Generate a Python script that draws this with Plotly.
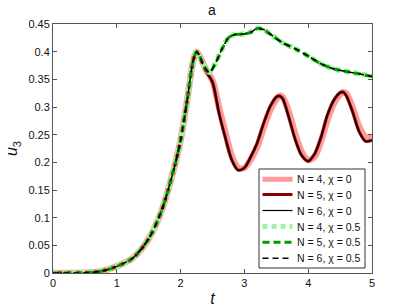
import plotly.graph_objects as go

# chi = 0 series
t_c0 = [0, 0.5, 0.75, 1.0, 1.25, 1.5, 1.7, 1.9, 2.0, 2.1, 2.2, 2.25, 2.3, 2.4, 2.5, 2.6, 2.7, 2.8, 2.9,
        3.0, 3.1, 3.2, 3.3, 3.4, 3.5, 3.55, 3.6, 3.7, 3.8, 3.9, 4.0, 4.1, 4.2, 4.3, 4.4, 4.5, 4.55,
        4.6, 4.7, 4.8, 4.9, 5.0]
u_n4_c0 = [0, 0.0005, 0.003, 0.012, 0.027, 0.062, 0.112, 0.19, 0.24, 0.31, 0.385, 0.40, 0.392, 0.367,
           0.348, 0.3, 0.255, 0.212, 0.19, 0.19, 0.205, 0.228, 0.262, 0.293, 0.314, 0.32, 0.318, 0.29,
           0.25, 0.218, 0.204, 0.21, 0.238, 0.276, 0.306, 0.323, 0.327, 0.324, 0.298, 0.264, 0.246, 0.245]
u_n5_c0 = [0, 0.0005, 0.003, 0.012, 0.027, 0.062, 0.112, 0.19, 0.24, 0.31, 0.385, 0.40, 0.39, 0.365,
           0.345, 0.29, 0.245, 0.205, 0.186, 0.19, 0.21, 0.235, 0.27, 0.30, 0.318, 0.32, 0.315, 0.28,
           0.24, 0.212, 0.202, 0.215, 0.245, 0.285, 0.312, 0.326, 0.327, 0.32, 0.29, 0.255, 0.238, 0.24]
u_n6_c0 = [0, 0.0005, 0.003, 0.012, 0.027, 0.062, 0.112, 0.19, 0.24, 0.31, 0.385, 0.40, 0.39, 0.365,
           0.345, 0.29, 0.245, 0.205, 0.186, 0.19, 0.21, 0.235, 0.27, 0.30, 0.318, 0.32, 0.315, 0.28,
           0.24, 0.212, 0.202, 0.215, 0.245, 0.285, 0.312, 0.326, 0.327, 0.32, 0.29, 0.255, 0.238, 0.24]

# chi = 0.5 series
t_c5 = [0, 0.5, 0.75, 1.0, 1.25, 1.5, 1.7, 1.9, 2.0, 2.1, 2.2, 2.25, 2.3, 2.35, 2.45, 2.55, 2.65, 2.75,
        2.85, 3.0, 3.1, 3.2, 3.3, 3.4, 3.6, 3.8, 4.0, 4.2, 4.4, 4.6, 4.8, 5.0]
u_n4_c5 = [0, 0.0005, 0.003, 0.012, 0.027, 0.062, 0.112, 0.19, 0.24, 0.31, 0.385, 0.40, 0.392, 0.378,
           0.363, 0.38, 0.405, 0.425, 0.431, 0.432, 0.436, 0.442, 0.44, 0.432, 0.416, 0.405, 0.392,
           0.378, 0.369, 0.364, 0.36, 0.356]
u_n5_c5 = [0, 0.0005, 0.003, 0.012, 0.027, 0.062, 0.112, 0.19, 0.24, 0.31, 0.385, 0.40, 0.392, 0.377,
           0.362, 0.38, 0.405, 0.425, 0.431, 0.432, 0.435, 0.442, 0.44, 0.432, 0.416, 0.405, 0.392,
           0.378, 0.369, 0.364, 0.36, 0.355]
u_n6_c5 = [0, 0.0005, 0.003, 0.012, 0.027, 0.062, 0.112, 0.19, 0.24, 0.31, 0.385, 0.40, 0.392, 0.377,
           0.362, 0.38, 0.405, 0.425, 0.431, 0.432, 0.435, 0.442, 0.44, 0.432, 0.416, 0.405, 0.392,
           0.378, 0.369, 0.364, 0.36, 0.355]

series_names = ["N = 4, χ = 0", "N = 5, χ = 0", "N = 6, χ = 0",
                "N = 4, χ = 0.5", "N = 5, χ = 0.5", "N = 6, χ = 0.5"]

x_ticks = [0, 1, 2, 3, 4, 5]
y_ticks = [0, 0.05, 0.1, 0.15, 0.2, 0.25, 0.3, 0.35, 0.4, 0.45]
y_tick_labels = ["0", "0.05", "0.1", "0.15", "0.2", "0.25", "0.3", "0.35", "0.4", "0.45"]

W, H = 410, 308
ML, MR, MT, MB = 53, 38, 24, 35
PW, PH = W - ML - MR, H - MT - MB

def px_x(p):
    return (p - ML) / PW

def px_y(p):
    return (H - MB - p) / PH

styles = [
    ("#ff9a9a", 6.5, "solid"),
    ("#8b0000", 3, "solid"),
    ("#000000", 1.2, "solid"),
    ("#a0f5a0", 5.5, "5px,4px"),
    ("#009900", 3, "7px,4px"),
    ("#000000", 1.5, "6px,4px"),
]
data = [(t_c0, u_n4_c0), (t_c0, u_n5_c0), (t_c0, u_n6_c0),
        (t_c5, u_n4_c5), (t_c5, u_n5_c5), (t_c5, u_n6_c5)]

fig = go.Figure()
for (t, u), name, (color, w, dash) in zip(data, series_names, styles):
    fig.add_trace(go.Scatter(x=t, y=u, name=name, mode="lines", showlegend=False,
                             line=dict(color=color, width=w, dash=dash, shape="spline", smoothing=0.8)))

# custom legend (box, line samples, labels)
shapes = [dict(type="rect", xref="paper", yref="paper", x0=px_x(259), x1=px_x(365),
               y0=px_y(268), y1=px_y(169), fillcolor="white", line=dict(color="#333333", width=1),
               layer="above")]
annotations = []
row_y = [179.3, 194.5, 210.5, 226.5, 242.3, 258.3]
for ry, name, (color, w, dash) in zip(row_y, series_names, styles):
    lw = min(w, 5)
    shapes.append(dict(type="line", xref="paper", yref="paper", x0=px_x(262.5), x1=px_x(292.5),
                       y0=px_y(ry), y1=px_y(ry), line=dict(color=color, width=lw, dash=dash),
                       layer="above"))
    annotations.append(dict(text=name, xref="paper", yref="paper", x=px_x(294.5), y=px_y(ry),
                            xanchor="left", yanchor="middle", showarrow=False,
                            font=dict(family="Liberation Sans, Arial", size=10.5, color="#111")))

axis_common = dict(showline=True, linecolor="#555555", linewidth=1, mirror="ticks", ticks="inside",
                   ticklen=4, tickcolor="#555555", showgrid=False, zeroline=False, automargin=False,
                   tickfont=dict(family="Liberation Sans, Arial", size=11, color="#111111"))
fig.update_xaxes(range=[0, 5], tickvals=x_ticks, **axis_common,
                 title=dict(text="<i>t</i>", font=dict(family="Liberation Sans, Arial", size=16, color="#111"),
                            standoff=4))
fig.update_yaxes(range=[0, 0.45], tickvals=y_ticks, ticktext=y_tick_labels, **axis_common,
                 title=dict(text="<i>u</i><sub>3</sub>", font=dict(family="Liberation Sans, Arial", size=16, color="#111"),
                            standoff=6))
fig.update_layout(
    width=W, height=H,
    margin=dict(l=ML, r=MR, t=MT, b=MB),
    paper_bgcolor="white", plot_bgcolor="white",
    title=dict(text="a", x=212 / W, xanchor="center", y=1 - 10.5 / H, yanchor="middle",
               font=dict(family="Liberation Sans, Arial", size=14, color="#111")),
    showlegend=False,
    shapes=shapes,
    annotations=annotations,
)
fig.write_html("out.html", config={"displayModeBar": False},
               post_script="document.body.style.margin='0';document.body.style.overflow='hidden';")
